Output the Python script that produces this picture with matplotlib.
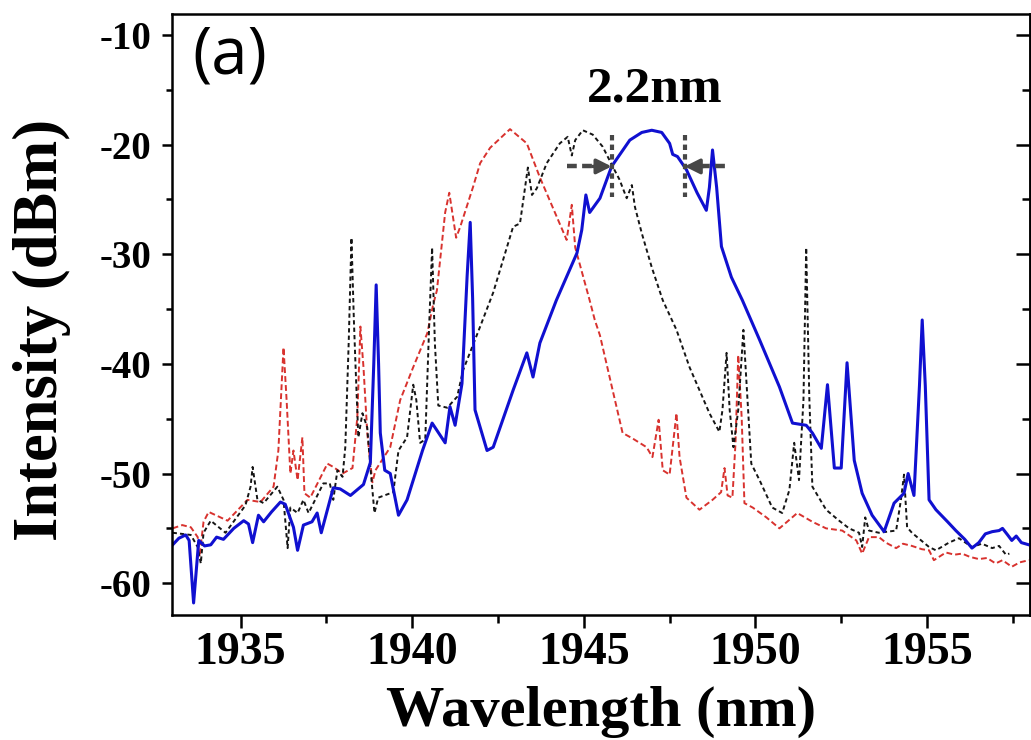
import numpy as np
import matplotlib
matplotlib.use("Agg")
import matplotlib.pyplot as plt
from matplotlib.ticker import MultipleLocator

plt.rcParams['axes.unicode_minus'] = False

blue_wl = [1933.02, 1933.2, 1933.4, 1933.5, 1933.63, 1933.78, 1933.95, 1934.13, 1934.3, 1934.5,
           1934.8, 1935.09, 1935.23, 1935.35, 1935.52, 1935.67, 1935.9, 1936.16, 1936.3, 1936.54,
           1936.66, 1936.83, 1937.08, 1937.23, 1937.35, 1937.7, 1937.9, 1938.2, 1938.58, 1938.78,
           1938.88, 1938.95, 1939.02, 1939.07, 1939.2, 1939.36, 1939.6, 1939.85, 1940.3, 1940.58,
           1940.96, 1941.1, 1941.25, 1941.45, 1941.6, 1941.69, 1941.76, 1941.83, 1942.18, 1942.36,
           1942.94, 1943.34, 1943.52, 1943.72, 1944.2, 1944.8, 1944.94, 1945.06, 1945.17, 1945.47,
           1945.81, 1946.34, 1946.69, 1946.98, 1947.27, 1947.5, 1947.59, 1947.73, 1947.99, 1948.3,
           1948.57, 1948.66, 1948.75, 1948.87, 1949.01, 1949.3, 1949.62, 1950.12, 1950.7, 1951.08,
           1951.48, 1951.66, 1951.92, 1952.1, 1952.3, 1952.5, 1952.67, 1952.88, 1953.11, 1953.4,
           1953.75, 1954.04, 1954.33, 1954.45, 1954.62, 1954.78, 1954.86, 1954.95, 1955.06, 1955.26,
           1955.6, 1955.84, 1956.1, 1956.31, 1956.51, 1956.7, 1956.9, 1957.1, 1957.2, 1957.35,
           1957.47, 1957.6, 1957.75, 1957.97]
blue_db = [-56.5, -55.9, -55.6, -56.1, -61.8, -56.1, -56.6, -56.5, -55.8, -56.0,
           -55.0, -54.3, -54.6, -56.3, -53.8, -54.4, -53.5, -52.6, -52.8, -54.9,
           -57.0, -54.7, -54.4, -53.6, -55.4, -51.3, -51.4, -52.0, -51.0, -49.0,
           -40.0, -32.8, -40.0, -46.3, -49.7, -50.0, -53.8, -52.4, -47.9, -45.4,
           -47.2, -43.9, -45.6, -41.8, -32.0, -27.1, -34.0, -44.2, -47.9, -47.6,
           -42.4, -39.0, -41.2, -38.1, -34.2, -29.9, -27.8, -24.6, -26.2, -24.9,
           -22.0, -19.6, -18.9, -18.7, -18.9, -19.9, -20.9, -21.1, -22.3, -24.4,
           -26.0, -23.9, -20.5, -23.9, -29.3, -32.1, -34.2, -37.8, -42.1, -45.4,
           -45.6, -46.3, -47.7, -41.9, -49.5, -49.5, -39.9, -48.8, -51.8, -53.8,
           -55.3, -52.7, -51.8, -50.0, -52.0, -42.0, -36.0, -42.0, -52.4, -53.3,
           -54.4, -55.2, -56.0, -56.8, -56.3, -55.5, -55.3, -55.2, -55.0, -55.6,
           -56.1, -55.7, -56.3, -56.5]

red_wl = [1933.02, 1933.3, 1933.55, 1933.75, 1933.8, 1933.92, 1934.07, 1934.62, 1935.2, 1935.58,
          1935.96, 1936.1, 1936.25, 1936.34, 1936.45, 1936.54, 1936.66, 1936.8, 1936.86, 1937.03,
          1937.53, 1937.7, 1937.97, 1938.26, 1938.4, 1938.49, 1938.58, 1938.69, 1938.84, 1938.93,
          1939.36, 1939.65, 1940.03, 1940.44, 1940.61, 1940.72, 1940.96, 1941.08, 1941.28, 1941.4,
          1941.77, 1941.98, 1942.27, 1942.85, 1943.34, 1943.72, 1944.5, 1944.65, 1944.75, 1945.17,
          1945.32, 1945.47, 1945.84, 1946.13, 1946.42, 1946.83, 1947.0, 1947.18, 1947.3, 1947.5,
          1947.7, 1947.79, 1947.99, 1948.37, 1948.75, 1949.0, 1949.1, 1949.19, 1949.33, 1949.42,
          1949.5, 1949.6, 1949.68, 1949.92, 1950.32, 1950.7, 1951.22, 1951.66, 1952.06, 1952.53,
          1952.94, 1953.11, 1953.31, 1953.6, 1953.8, 1954.1, 1954.3, 1954.56, 1954.85, 1955.06,
          1955.2, 1955.55, 1955.8, 1956.02, 1956.25, 1956.51, 1956.75, 1957.0, 1957.2, 1957.47,
          1957.7, 1957.97]
red_db = [-55.0, -54.7, -54.9, -55.8, -57.6, -54.4, -53.5, -54.3, -52.4, -52.6,
          -51.2, -47.9, -38.5, -43.3, -50.0, -47.9, -50.6, -46.7, -51.8, -52.2,
          -49.1, -49.4, -50.0, -49.5, -44.9, -36.6, -40.3, -46.3, -50.8, -49.7,
          -47.6, -43.3, -40.3, -37.2, -34.6, -33.3, -26.2, -24.4, -28.5, -27.5,
          -23.9, -21.7, -20.3, -18.6, -19.9, -23.0, -28.7, -25.5, -29.4, -34.2,
          -36.0, -37.4, -42.4, -46.3, -46.8, -47.6, -48.5, -45.1, -49.7, -50.1,
          -44.5, -48.5, -52.2, -53.3, -52.4, -51.7, -49.5, -52.0, -52.2, -47.2,
          -39.2, -44.9, -52.7, -53.1, -54.0, -55.0, -53.6, -54.4, -55.0, -55.2,
          -56.1, -57.3, -55.8, -55.8, -56.3, -56.8, -56.4, -56.6, -56.9, -57.0,
          -57.9, -57.2, -57.4, -57.3, -57.6, -57.8, -57.7, -58.2, -57.9, -58.5,
          -58.1, -57.9]

black_wl = [1933.02, 1933.55, 1933.75, 1933.84, 1933.92, 1934.13, 1934.56, 1935.14, 1935.29, 1935.35,
            1935.49, 1935.67, 1936.07, 1936.25, 1936.37, 1936.45, 1936.66, 1936.83, 1936.98, 1937.41,
            1937.6, 1937.7, 1937.82, 1937.97, 1938.05, 1938.15, 1938.23, 1938.3, 1938.35, 1938.43,
            1938.55, 1938.69, 1938.78, 1938.9, 1939.01, 1939.45, 1939.6, 1939.85, 1940.03, 1940.12,
            1940.23, 1940.38, 1940.5, 1940.58, 1940.66, 1940.76, 1941.02, 1941.31, 1941.48, 1941.98,
            1942.36, 1942.94, 1943.14, 1943.37, 1943.49, 1943.63, 1943.92, 1944.3, 1944.53, 1944.65,
            1944.75, 1944.97, 1945.26, 1945.55, 1945.84, 1946.04, 1946.25, 1946.4, 1946.49, 1946.69,
            1946.98, 1947.3, 1947.7, 1948.08, 1948.37, 1948.66, 1948.95, 1949.04, 1949.16, 1949.25,
            1949.36, 1949.5, 1949.65, 1949.77, 1949.88, 1950.12, 1950.49, 1950.78, 1950.99, 1951.13,
            1951.27, 1951.4, 1951.48, 1951.57, 1951.66, 1952.06, 1952.44, 1952.73, 1953.02, 1953.11,
            1953.2, 1953.31, 1953.6, 1954.1, 1954.24, 1954.33, 1954.42, 1954.56, 1955.06, 1955.26,
            1955.64, 1955.93, 1956.31, 1956.6, 1956.9, 1957.1, 1957.3, 1957.4]
black_db = [-55.4, -55.6, -56.7, -58.2, -55.4, -54.3, -55.4, -52.9, -51.2, -49.4,
            -52.4, -52.7, -51.2, -52.4, -56.8, -53.1, -53.6, -52.4, -53.6, -50.9,
            -50.9, -52.4, -49.7, -50.3, -47.6, -38.0, -28.5, -36.0, -40.3, -46.7,
            -44.5, -45.8, -49.4, -53.6, -52.2, -51.7, -47.9, -46.7, -41.9, -43.3,
            -47.2, -46.9, -36.0, -29.4, -38.1, -43.8, -44.0, -43.0, -40.6, -36.6,
            -33.5, -27.5, -27.2, -22.1, -24.6, -24.0, -21.7, -19.9, -19.3, -21.0,
            -19.6, -18.7, -19.1, -20.2, -22.0, -23.2, -24.9, -23.7, -25.7, -28.1,
            -31.2, -34.2, -36.9, -40.3, -42.4, -44.5, -46.2, -44.2, -39.0, -44.2,
            -47.6, -44.2, -36.9, -43.3, -49.1, -50.6, -53.1, -53.6, -51.5, -47.2,
            -50.6, -43.3, -29.4, -43.0, -51.2, -53.3, -54.3, -55.0, -55.4, -56.7,
            -54.0, -55.2, -55.4, -55.2, -52.4, -50.1, -54.9, -55.4, -56.7, -57.0,
            -56.3, -55.9, -56.7, -56.4, -56.8, -56.6, -57.4, -57.3]

# FWHM marker
fwhm_left = 1945.81
fwhm_right = 1947.94
fwhm_level = -22.0
fwhm_text = "2.2nm"

fig = plt.figure(figsize=(10.31, 7.4), dpi=100)
ax = fig.add_axes([0.1668, 0.1689, 0.8322, 0.8122])

ax.plot(red_wl, red_db, color='#d8322e', lw=1.4, ls=(0, (3, 1.6)))
ax.plot(black_wl, black_db, color='#151515', lw=1.4, ls=(0, (2.2, 1.6)))
ax.plot(blue_wl, blue_db, color='#1010d0', lw=2.2)

# FWHM arrows and markers
grey = '#474747'
for xv in (fwhm_left, fwhm_right):
    ax.plot([xv, xv], [-19.1, -24.8], color=grey, lw=3, ls=(0, (1.3, 1.0)))
ax.plot([1944.5, fwhm_left - 0.45], [fwhm_level] * 2, color=grey, lw=3.2, ls=(0, (2.2, 1.2)))
ax.plot([fwhm_right + 0.45, 1949.25], [fwhm_level] * 2, color=grey, lw=3.2, ls=(0, (2.2, 1.2)))
ax.annotate('', xy=(fwhm_left, fwhm_level), xytext=(fwhm_left - 0.55, fwhm_level),
            arrowprops=dict(arrowstyle='-|>,head_length=0.9,head_width=0.45',
                            color=grey, lw=2.5, shrinkA=0, shrinkB=0))
ax.annotate('', xy=(fwhm_right, fwhm_level), xytext=(fwhm_right + 0.55, fwhm_level),
            arrowprops=dict(arrowstyle='-|>,head_length=0.9,head_width=0.45',
                            color=grey, lw=2.5, shrinkA=0, shrinkB=0))
ax.text((fwhm_left + fwhm_right) / 2 + 0.2, -16.1, fwhm_text, ha='center', va='baseline',
        fontsize=37, fontweight='bold', family='Liberation Serif')

ax.text(0.024, 0.985, '(a)', transform=ax.transAxes, ha='left', va='top',
        fontsize=47, family='Open Sans')

ax.set_xlim(1933, 1958)
ax.set_ylim(-62.9, -8.1)
ax.xaxis.set_major_locator(MultipleLocator(5))
ax.xaxis.set_minor_locator(MultipleLocator(2.5))
ax.yaxis.set_major_locator(MultipleLocator(10))
ax.yaxis.set_minor_locator(MultipleLocator(5))

for s in ax.spines.values():
    s.set_linewidth(1.8)

ax.tick_params(axis='x', which='major', direction='out', length=9, width=1.8, pad=3)
ax.tick_params(axis='x', which='minor', direction='out', length=6, width=1.8)
ax.tick_params(axis='y', which='major', direction='out', length=7, width=1.8, pad=8)
ax.tick_params(axis='y', which='minor', direction='out', length=4, width=1.8)

sec = ax.secondary_yaxis('right')
sec.yaxis.set_major_locator(MultipleLocator(10))
sec.yaxis.set_minor_locator(MultipleLocator(5))
sec.tick_params(axis='y', which='major', direction='in', length=10, width=1.8, labelright=False)
sec.tick_params(axis='y', which='minor', direction='in', length=6, width=1.8)
sec.spines['right'].set_linewidth(1.8)

for lab in ax.get_xticklabels():
    lab.set_fontsize(33)
    lab.set_fontweight('bold')
    lab.set_family('Liberation Serif')
for lab in ax.get_yticklabels():
    lab.set_fontsize(28)
    lab.set_fontweight('bold')
    lab.set_family('Liberation Serif')

ax.set_xlabel('Wavelength (nm)', fontsize=42, fontweight='bold', family='Liberation Serif')
ax.set_ylabel('Intensity (dBm)', fontsize=45, fontweight='bold', family='Liberation Serif')
ax.xaxis.set_label_coords(0.5, -0.118)
ax.yaxis.set_label_coords(-0.118, 0.475)

fig.savefig('out.png', dpi=100)
